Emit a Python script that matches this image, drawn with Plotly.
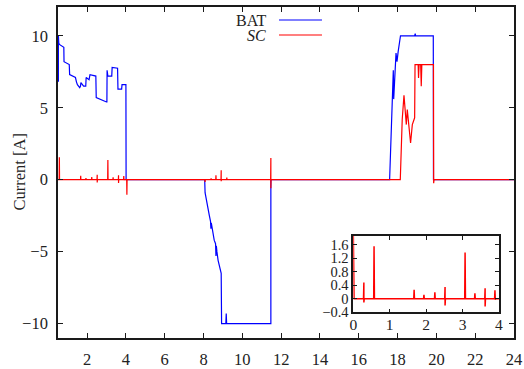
import plotly.graph_objects as go

# BAT current (time s, current A)
bat_t = [0.52, 0.52, 0.54, 0.57, 0.80, 0.81, 1.08, 1.10, 1.40, 1.45, 1.50, 1.62, 1.66, 1.68,
         1.75, 1.82, 1.93, 1.95, 2.10, 2.15, 2.45, 2.47, 3.00, 3.02, 3.03, 3.04, 3.06, 3.07,
         3.27, 3.29, 3.57, 3.59, 3.78, 3.80, 4.00, 4.01, 8.06, 8.08, 8.30, 8.36, 8.38, 8.40,
         8.55, 8.62, 8.64, 8.66, 8.69, 8.75, 8.91, 8.91, 8.92, 8.93, 9.15, 9.17, 9.19, 11.47,
         11.47, 17.59, 17.78, 17.80, 17.92, 17.97, 18.03, 18.15, 18.88, 18.91, 18.93, 19.84,
         19.85, 24.0]
bat_i = [6.8, 10.0, 9.5, 9.4, 9.2, 8.2, 8.0, 7.3, 7.1, 6.8, 6.6, 6.4, 6.5, 6.75,
         6.6, 6.5, 6.5, 7.1, 6.95, 7.3, 7.2, 5.7, 5.4, 5.4, 7.6, 7.25, 7.6, 7.2,
         7.2, 7.8, 7.75, 6.3, 6.3, 6.6, 6.6, 0.0, 0.0, -0.9, -2.5, -2.9, -3.4, -3.0,
         -4.2, -4.45, -5.3, -4.6, -5.0, -5.6, -6.5, -9.3, -9.0, -10.0, -10.0, -9.3, -10.0, -10.0,
         0.0, 0.0, 7.6, 5.6, 8.8, 8.2, 8.9, 10.0, 10.0, 10.15, 10.0, 10.0,
         0.0, 0.0]

# SC current (time s, current A)
sc_t = [0.00, 0.01, 0.02, 0.28, 0.29, 0.29, 0.30, 0.56, 0.57, 0.58, 1.66, 1.67, 1.68,
        1.93, 1.94, 1.95, 2.23, 2.24, 2.25, 2.51, 2.52, 2.52, 2.53, 3.06, 3.07, 3.08,
        3.33, 3.34, 3.35, 3.61, 3.62, 3.62, 3.63, 3.88, 3.89, 3.90, 3.91, 4.04, 4.05, 4.06,
        8.07, 8.08, 8.09, 8.38, 8.39, 8.40, 8.63, 8.64, 8.65, 8.90, 8.91, 8.91, 8.92,
        9.19, 9.20, 9.21, 11.46, 11.47, 11.47, 11.48, 18.14, 18.21, 18.24, 18.33, 18.45,
        18.50, 18.67, 18.76, 18.86, 18.88, 18.90, 19.06, 19.08, 19.11, 19.19, 19.22, 19.25,
        19.85, 19.86, 19.88, 24.0]
sc_i = [2.0, 0.5, 0.0, 0.0, 0.48, -0.11, 0.0, 0.0, 1.56, 0.0, 0.0, 0.27, 0.0,
        0.0, 0.12, 0.0, 0.0, 0.19, 0.0, 0.0, 0.35, -0.2, 0.0, 0.0, 1.37, 0.0,
        0.0, 0.16, 0.0, 0.0, 0.31, -0.23, 0.0, 0.0, 0.25, -0.03, 0.0, 0.0, -1.04, 0.0,
        0.0, -0.15, 0.0, 0.0, 0.1, 0.0, 0.0, 0.3, 0.0, 0.0, 0.65, -0.1, 0.0,
        0.0, 0.15, 0.0, 0.0, 1.5, -0.6, 0.0, 0.0, 3.8, 4.2, 5.87, 3.83,
        4.87, 2.55, 3.83, 4.2, 4.3, 8.0, 8.0, 7.07, 8.0, 8.0, 6.5, 8.0,
        8.0, -0.25, 0.0, 0.0]

main_xticks = list(range(2, 25, 2))
main_yticks = [-10, -5, 0, 5, 10]
inset_xticks = [0, 1, 2, 3, 4]
inset_yticks = [-0.4, 0, 0.4, 0.8, 1.2, 1.6]
inset_ylabels = ["\u22120.4", "0", "0.4", "0.8", "1.2", "1.6"]

FONT = "Liberation Serif"
BLUE = "#0000ff"
RED = "#ff0000"
AX = "#1a1a1a"
TXT = "#222"

fig = go.Figure()
fig.add_trace(go.Scatter(x=bat_t, y=bat_i, mode="lines", line=dict(color=BLUE, width=1.2),
                         name="BAT", showlegend=False))
fig.add_trace(go.Scatter(x=sc_t, y=sc_i, mode="lines", line=dict(color=RED, width=1.2),
                         name="SC", showlegend=False))
fig.add_trace(go.Scatter(x=sc_t, y=sc_i, mode="lines", line=dict(color=RED, width=1.5),
                         xaxis="x2", yaxis="y2", showlegend=False))


def axis_common(size):
    return dict(showline=True, linecolor=AX, linewidth=1.6, mirror="ticks",
                ticks="inside", tickcolor=AX, showgrid=False, zeroline=False,
                automargin=False,
                tickfont=dict(family=FONT, size=size, color=TXT))


fig.update_layout(
    width=524, height=369,
    margin=dict(l=58, r=10, t=7, b=31, autoexpand=False),
    paper_bgcolor="white", plot_bgcolor="white",
    font=dict(family=FONT, size=16, color=TXT),
    xaxis=dict(range=[0.5, 24], tickvals=main_xticks, ticklen=5, tickwidth=1.2,
               ticklabelstandoff=5, **axis_common(16.5)),
    yaxis=dict(range=[-11, 12], tickvals=main_yticks, ticklen=5, tickwidth=1.2,
               ticklabelstandoff=5, **axis_common(16.5)),
    xaxis2=dict(domain=[0.6476, 0.967], anchor="y2", range=[0, 4], tickvals=inset_xticks,
                ticklen=4, tickwidth=1.2, ticklabelstandoff=-3, **axis_common(15.5)),
    yaxis2=dict(domain=[0.0776, 0.309], anchor="x2", range=[-0.4, 1.87], tickvals=inset_yticks,
                ticktext=inset_ylabels, ticklen=4, tickwidth=1.2, ticklabelstandoff=0,
                **axis_common(14.5)),
    showlegend=False,
)

# y-axis title
fig.add_annotation(text="Current [A]", xref="paper", yref="paper", x=-0.0855, y=0.5,
                   textangle=-90, showarrow=False, xanchor="center", yanchor="middle",
                   font=dict(family=FONT, size=16.5, color=TXT))

# legend (gnuplot style: text then sample line)
for label, color, ypos in [("BAT", BLUE, 0.9607), ("<i>SC</i>", RED, 0.9154)]:
    fig.add_annotation(text=label, xref="paper", yref="paper", x=0.4605, y=ypos,
                       showarrow=False, xanchor="right", yanchor="middle",
                       font=dict(family=FONT, size=16, color=TXT))
    fig.add_shape(type="line", xref="paper", yref="paper", x0=0.4846, x1=0.5789,
                  y0=ypos, y1=ypos, line=dict(color=color, width=1.2))

fig.write_html("out.html")
